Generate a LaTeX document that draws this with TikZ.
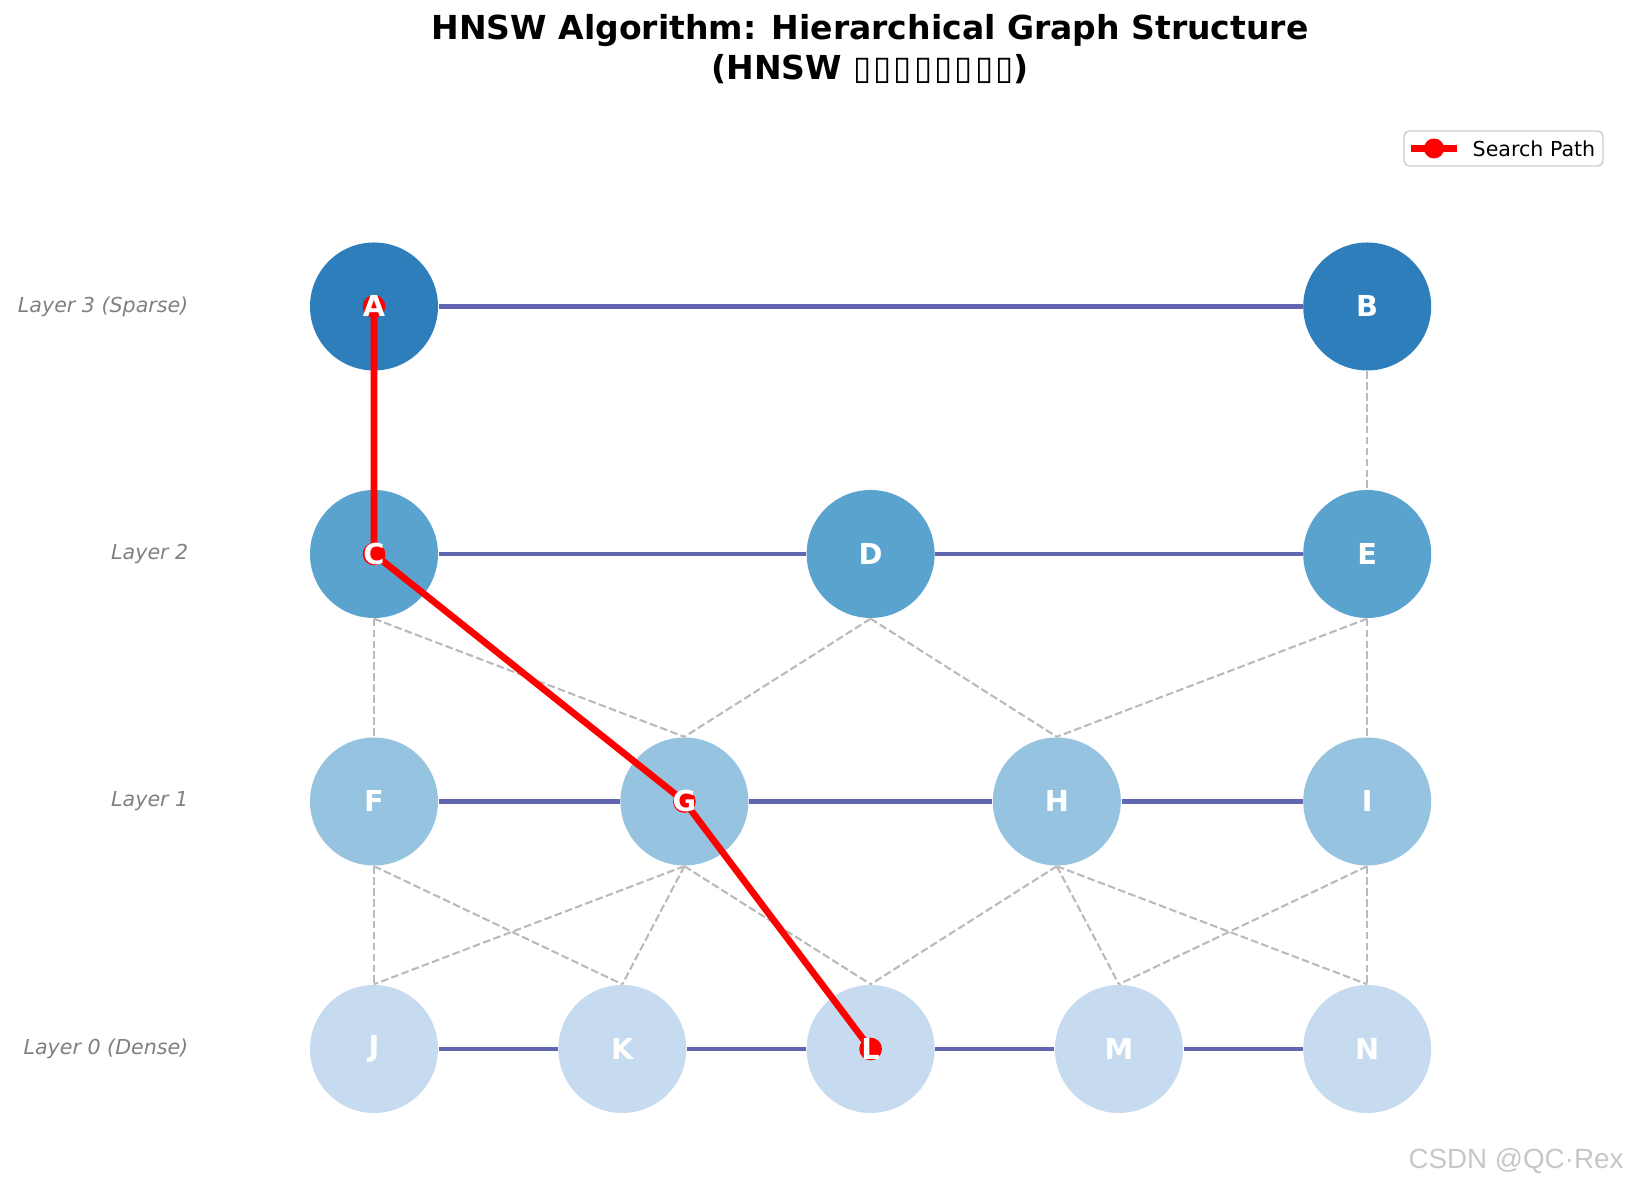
\documentclass[tikz,border=0pt]{standalone}
\usepackage{fontspec}
\setmainfont{DejaVu Sans}
\newfontfamily\wmfont{Liberation Sans}
\usetikzlibrary{positioning}

\tikzset{
    hnode/.style={circle, minimum size=1.28cm, inner sep=0pt, draw=none},
    nodelabel/.style={text=white, font=\fontsize{8.2}{9}\selectfont\bfseries, inner sep=0pt},
    layeredge/.style={draw=edgecolor, line width=1.17pt},
    crossedge/.style={draw=black!27, line width=0.59pt, dash pattern=on 2.17pt off 0.94pt},
    searchpath/.style={draw=red, line width=1.9pt},
    pathmark/.style={circle, fill=red, minimum size=0.227cm, inner sep=0pt},
    layerlabel/.style={anchor=east, inner sep=0pt, text=gray, font=\fontsize{5.86}{7}\selectfont\itshape},
}
\newcommand{\tofu}{▯\kern0.6pt}

\begin{document}
\begin{tikzpicture}

    % Colours (Blues colormap, one shade per layer)
    \definecolor{layer3}{RGB}{46,126,187}
    \definecolor{layer2}{RGB}{91,163,207}
    \definecolor{layer1}{RGB}{150,195,223}
    \definecolor{layer0}{RGB}{198,219,239}
    \definecolor{edgecolor}{RGB}{98,102,176}

    \useasboundingbox (0,0) rectangle (16.29,11.90);

    % ===== TITLE =====
    \node[font=\fontsize{9.4}{11.3}\selectfont\bfseries, align=center] (title) at (8.70, 11.41)
        {HNSW Algorithm: Hierarchical Graph Structure\\(HNSW {\mdseries\tofu\tofu\tofu\tofu\tofu\tofu\tofu▯})};

    % 1. Layer names (left)
    \node[layerlabel] (name3) at (1.89, 8.835) {Layer 3 (Sparse)};
    \node[layerlabel] (name2) at (1.89, 6.36) {Layer 2};
    \node[layerlabel] (name1) at (1.89, 3.885) {Layer 1};
    \node[layerlabel] (name0) at (1.89, 1.41) {Layer 0 (Dense)};

    % 2. Nodes, top layer to bottom layer
    \node[hnode, fill=layer3] (A) at (3.74, 8.835) {};
    \node[hnode, fill=layer3] (B) at (13.672, 8.835) {};

    \node[hnode, fill=layer2] (C) at (3.74, 6.36) {};
    \node[hnode, fill=layer2] (D) at (8.706, 6.36) {};
    \node[hnode, fill=layer2] (E) at (13.672, 6.36) {};

    \node[hnode, fill=layer1] (F) at (3.74, 3.885) {};
    \node[hnode, fill=layer1] (G) at (6.844, 3.885) {};
    \node[hnode, fill=layer1] (H) at (10.568, 3.885) {};
    \node[hnode, fill=layer1] (I) at (13.672, 3.885) {};

    \node[hnode, fill=layer0] (J) at (3.74, 1.41) {};
    \node[hnode, fill=layer0] (K) at (6.223, 1.41) {};
    \node[hnode, fill=layer0] (L) at (8.706, 1.41) {};
    \node[hnode, fill=layer0] (M) at (11.189, 1.41) {};
    \node[hnode, fill=layer0] (N) at (13.672, 1.41) {};

    % 3. Links inside each layer
    \draw[layeredge] (A) -- (B);
    \draw[layeredge] (C) -- (D);
    \draw[layeredge] (D) -- (E);
    \draw[layeredge] (F) -- (G);
    \draw[layeredge] (G) -- (H);
    \draw[layeredge] (H) -- (I);
    \draw[layeredge] (J) -- (K);
    \draw[layeredge] (K) -- (L);
    \draw[layeredge] (L) -- (M);
    \draw[layeredge] (M) -- (N);

    % 4. Links between layers (dashed)
    \draw[crossedge] (B.south) -- (E.north);
    \draw[crossedge] (C.south) -- (F.north);
    \draw[crossedge] (C.south) -- (G.north);
    \draw[crossedge] (D.south) -- (G.north);
    \draw[crossedge] (D.south) -- (H.north);
    \draw[crossedge] (E.south) -- (H.north);
    \draw[crossedge] (E.south) -- (I.north);
    \draw[crossedge] (F.south) -- (J.north);
    \draw[crossedge] (F.south) -- (K.north);
    \draw[crossedge] (G.south) -- (J.north);
    \draw[crossedge] (G.south) -- (K.north);
    \draw[crossedge] (G.south) -- (L.north);
    \draw[crossedge] (H.south) -- (L.north);
    \draw[crossedge] (H.south) -- (M.north);
    \draw[crossedge] (H.south) -- (N.north);
    \draw[crossedge] (I.south) -- (M.north);
    \draw[crossedge] (I.south) -- (N.north);

    % 5. Search path A -> C -> G -> L
    \draw[searchpath] (A.center) -- (C.center) -- (G.center) -- (L.center);
    \foreach \n in {A, C, G, L}
        \node[pathmark] (m\n) at (\n) {};

    % 6. Node letters on top
    \foreach \n in {A, B, C, D, E, F, G, H, I, J, K, L, M, N}
        \node[nodelabel] (l\n) at (\n) {\n};

    % ===== LEGEND (top right) =====
    \node[draw=black!20, fill=white, rounded corners=1.5pt, minimum width=1.99cm, minimum height=0.35cm, inner sep=0pt] (legend) at (15.035, 10.415) {};
    \coordinate (lgstart) at (14.11, 10.415);
    \coordinate (lgend) at (14.57, 10.415);
    \draw[searchpath] (lgstart) -- (lgend);
    \node[pathmark, minimum size=0.2cm] (lgmark) at (14.34, 10.415) {};
    \node[anchor=west, inner sep=0pt, font=\fontsize{5.86}{7}\selectfont] (lgtext) at (14.72, 10.415) {Search Path};

    % Watermark
    \node[font=\wmfont\fontsize{7.9}{9}\selectfont, text=black!22] (wm) at (15.16, 0.29) {CSDN @QC·Rex};

\end{tikzpicture}
\end{document}
